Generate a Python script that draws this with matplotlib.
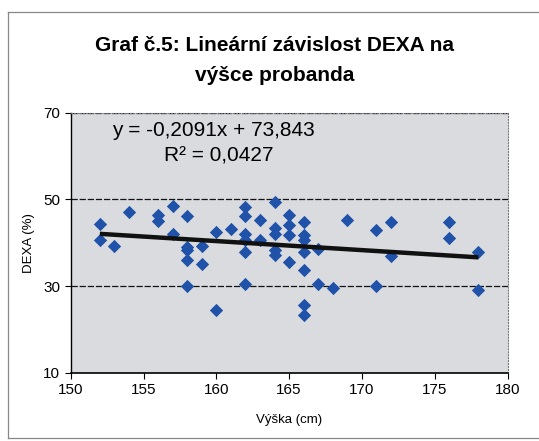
import numpy as np
import matplotlib
matplotlib.use('Agg')
import matplotlib.pyplot as plt
from matplotlib.lines import Line2D

plt.rcParams['font.family'] = ['Liberation Sans', 'DejaVu Sans']

# data (height in cm, DEXA in %)
vyska = [152, 152, 153, 154, 156, 156, 157, 157,
         158, 158, 158, 158, 158, 159, 159, 160, 160, 161,
         162, 162, 162, 162, 162, 162, 163, 163,
         164, 164, 164, 164, 164, 165, 165, 165, 165,
         166, 166, 166, 166, 166, 166, 166, 167, 167, 168, 169,
         171, 171, 172, 172, 176, 176, 178, 178]
dexa = [44.4, 40.6, 39.2, 47.1, 46.4, 45.0, 48.6, 42.0,
        46.2, 39.0, 38.3, 36.0, 30.0, 39.3, 35.1, 42.5, 24.4, 43.1,
        48.3, 46.1, 42.1, 40.7, 37.9, 30.4, 45.2, 40.6,
        49.4, 43.3, 42.1, 38.3, 37.1, 46.4, 44.1, 41.7, 35.6,
        44.8, 41.7, 40.6, 37.9, 33.8, 25.5, 23.4, 38.5, 30.4, 29.5, 45.2,
        42.9, 29.9, 44.8, 36.9, 44.8, 41.0, 37.9, 29.0]

# trend line as printed in the chart
slope = -0.2091
intercept = 73.843

x_ticks = [150, 155, 160, 165, 170, 175, 180]
y_ticks = [10, 30, 50, 70]

fig = plt.figure(figsize=(5.39, 4.41), dpi=100)
ax = fig.add_axes([0.1312, 0.1553, 0.8104, 0.5885])
ax.set_facecolor('#d9dbde')

ax.set_xlim(150, 180)
ax.set_ylim(10, 70)
ax.set_xticks(x_ticks)
ax.set_yticks(y_ticks)
ax.tick_params(labelsize=11, length=4, width=0.8, direction='out')

for g in [30, 50, 70]:
    ax.axhline(g, color='#111111', lw=0.9, ls=(0, (5, 1.5)), zorder=1)

for s in ['top', 'right']:
    ax.spines[s].set_color('#777777')
    ax.spines[s].set_linestyle(':')
ax.spines['left'].set_linewidth(1.0)
ax.spines['bottom'].set_linewidth(1.2)

ax.scatter(vyska, dexa, marker='D', s=46, color='#1f52a8', zorder=3,
           linewidths=0)

xl = np.array([min(vyska), max(vyska)])
ax.plot(xl, slope * xl + intercept, color='#111111', lw=3.2, zorder=4,
        solid_capstyle='butt')

ax.set_xlabel('Výška (cm)', fontsize=9.5, labelpad=12)
ax.set_ylabel('DEXA (%)', fontsize=9.5, labelpad=6)

fig.text(0.51, 0.897, 'Graf č.5: Lineární závislost DEXA na',
         ha='center', va='center', fontsize=15, fontweight='bold')
fig.text(0.51, 0.828, 'výšce probanda',
         ha='center', va='center', fontsize=15, fontweight='bold')

fig.text(0.395, 0.703, 'y = -0,2091x + 73,843', ha='center', va='center',
         fontsize=15)
fig.text(0.405, 0.647, 'R² = 0,0427', ha='center', va='center',
         fontsize=15)

# outer chart frame
for xs, ys in [([0.014, 0.014], [0.007, 0.973]),
               ([0.014, 1.0], [0.973, 0.973]),
               ([0.014, 1.0], [0.007, 0.007])]:
    fig.add_artist(Line2D(xs, ys, transform=fig.transFigure,
                          color='#888888', lw=0.9))

plt.savefig('out.png', dpi=100)
